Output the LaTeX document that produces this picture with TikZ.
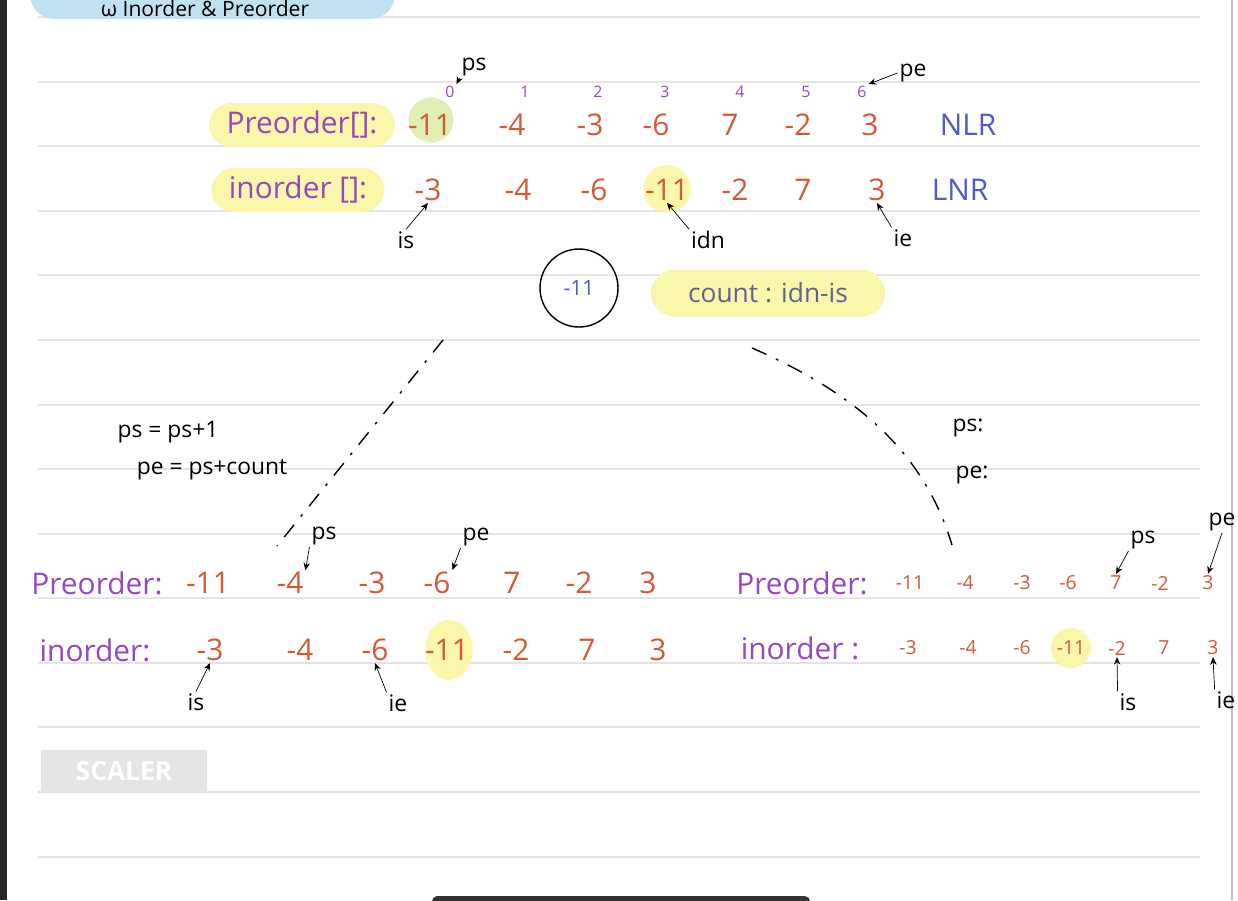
\documentclass[tikz,border=0pt]{standalone}
\usepackage{fontspec}
\setmainfont{Open Sans}
\usepackage{tikz}
\usetikzlibrary{arrows.meta,positioning,calc,shapes.geometric}

\definecolor{valred}{RGB}{212,90,52}
\definecolor{arrpurple}{RGB}{150,72,190}
\definecolor{penblue}{RGB}{78,92,196}
\definecolor{countblue}{RGB}{92,100,150}
\definecolor{hlyellow}{RGB}{250,246,170}
\definecolor{hlgreen}{RGB}{224,240,180}
\definecolor{hlblue}{RGB}{192,226,240}
\definecolor{ruleline}{RGB}{228,228,228}

\begin{document}
\begin{tikzpicture}[x=0.02cm, y=-0.02cm,
  val/.style={text=valred, font=\fontsize{17}{20}\selectfont, inner sep=1pt},
  sval/.style={text=valred, font=\fontsize{11}{13}\selectfont, inner sep=1pt},
  arr/.style={text=arrpurple, font=\fontsize{17}{20}\selectfont, inner sep=1pt},
  arrlbl/.style={arr, fill=hlyellow, rounded corners=13pt, inner xsep=10pt, minimum height=0.88cm},
  idx/.style={text=arrpurple, font=\fontsize{9}{10}\selectfont, inner sep=1pt},
  ptr/.style={font=\fontsize{13}{15}\selectfont, inner sep=1pt},
  note/.style={font=\fontsize{13}{15}\selectfont, inner sep=1pt},
  order/.style={text=penblue, font=\fontsize{17}{20}\selectfont, inner sep=1pt},
  spot/.style={circle, inner sep=0pt},
  arrow/.style={-{Stealth[length=1.5mm,width=1.3mm]}, thin},
  branch/.style={thick, dash pattern=on 9pt off 6pt on 1.5pt off 6pt},
]
\clip (0,0) rectangle (1238,900);
\fill[white] (0,0) rectangle (1238,900);

% Page frame
\fill[black!85] (0,0) rectangle (7,900);
\draw[black!25, thick] (1232,0) -- (1232,900);
\fill[black!80, rounded corners=3pt] (432,896) rectangle (810,906);
\foreach \y in {17,82,146,211,275,340,405,469,534,598,663,727,792,857}
  \draw[ruleline, thick] (38,\y) -- (1200,\y);

% Heading
\fill[hlblue, rounded corners=14pt] (30,-25) rectangle (395,19);
\node[font=\fontsize{12}{14}\selectfont, inner sep=1pt] (title) at (205,9) {ω Inorder \& Preorder};

% Top arrays
\node[arrlbl] (prelbl) at (302,125) {Preorder[]:};
\node[arrlbl] (inlbl) at (298,190) {inorder []:};
\node[spot, fill=hlgreen, minimum size=0.9cm] (preroot) at (431,120) {};
\node[spot, fill=hlyellow, minimum size=0.95cm] (inroot) at (667,189) {};
\foreach \x/\v [count=\i] in {430/-11,512/-4,590/-3,656/-6,730/7,798/-2,870/3}
  \node[val] (pre\i) at (\x,125) {\v};
\foreach \x/\v [count=\i] in {428/-3,518/-4,594/-6,667/-11,735/-2,803/7,877/3}
  \node[val] (in\i) at (\x,190) {\v};
\node[order] (nlr) at (968,125) {NLR};
\node[order] (lnr) at (960,190) {LNR};
\foreach \x/\k [count=\i] in {450/0,525/1,598/2,665/3,740/4,806/5,862/6}
  \node[idx] (idx\i) at (\x,92) {\k};

% Top pointers
\node[ptr] (tps) at (474,67) {ps};
\node[ptr] (tpe) at (913,73) {pe};
\node[ptr] (tis) at (406,240) {is};
\node[ptr] (tidn) at (708,240) {idn};
\node[ptr] (tie) at (903,238) {ie};
\draw[arrow] (tps.south west) -- (idx1.north east);
\draw[arrow] (tpe.west) -- (idx7.north east);
\draw[arrow] (tis.north) -- (in1.south);
\draw[arrow] (tidn.north west) -- (in4.south);
\draw[arrow] (tie.north west) -- (in7.south);

% Root
\node[circle, draw, thick, minimum size=1.56cm, text=penblue, font=\fontsize{12}{14}\selectfont] (root) at (579,288) {-11};
\node[fill=hlyellow, rounded corners=14pt, minimum width=4.7cm, minimum height=0.94cm, text=countblue, font=\fontsize{15}{18}\selectfont] (count) at (768,293) {count : idn-is};

% Branches
\coordinate (lstart) at (443,340);
\coordinate (lend) at (277,546);
\coordinate (rstart) at (752,348);
\coordinate (rend) at (952,545);
\draw[branch] (lstart) -- (lend);
\draw[branch] (rstart) .. controls (860,395) and (925,455) .. (rend);
\node[note] (lps) at (168,432) {ps = ps+1};
\node[note] (lpe) at (212,470) {pe = ps+count};
\node[note] (rps) at (968,428) {ps:};
\node[note] (rpe) at (972,475) {pe:};

% Left subtree arrays
\node[arr] (lprelbl) at (97,583) {Preorder:};
\node[arr] (linlbl) at (95,650) {inorder:};
\node[ellipse, inner sep=0pt, fill=hlyellow, minimum width=0.95cm, minimum height=1.2cm] (linroot) at (449,650) {};
\foreach \x/\v [count=\i] in {208/-11,290/-4,372/-3,437/-6,512/7,579/-2,648/3}
  \node[val] (lpre\i) at (\x,583) {\v};
\foreach \x/\v [count=\i] in {210/-3,300/-4,375/-6,447/-11,516/-2,587/7,658/3}
  \node[val] (lin\i) at (\x,650) {\v};
\node[ptr] (lptrps) at (324,536) {ps};
\node[ptr] (lptrpe) at (476,537) {pe};
\node[ptr] (lptris) at (196,702) {is};
\node[ptr] (lptrie) at (398,703) {ie};
\draw[arrow] (lptrps.south west) -- (lpre2.north east);
\draw[arrow] (lptrpe.south west) -- (lpre4.north east);
\draw[arrow] (lptris.north) -- (lin1.south);
\draw[arrow] (lptrie.north west) -- (lin3.south);

% Right subtree arrays
\node[arr] (rprelbl) at (802,583) {Preorder:};
\node[arr] (rinlbl) at (800,648) {inorder :};
\node[spot, fill=hlyellow, minimum size=0.8cm] (rinroot) at (1071,648) {};
\foreach \x/\v [count=\i] in {910/-11,965/-4,1022/-3,1068/-6,1116/7,1160/-2,1208/3}
  \node[sval] (rpre\i) at (\x,583) {\v};
\foreach \x/\v [count=\i] in {908/-3,968/-4,1022/-6,1071/-11,1117/-2,1164/7,1213/3}
  \node[sval] (rin\i) at (\x,648) {\v};
\node[ptr] (rptrps) at (1143,540) {ps};
\node[ptr] (rptrpe) at (1222,522) {pe};
\node[ptr] (rptris) at (1128,702) {is};
\node[ptr] (rptrie) at (1226,700) {ie};
\draw[arrow] (rptrps.south west) -- (rpre5.north);
\draw[arrow] (rptrpe.south) -- (rpre7.north);
\draw[arrow] (rptris.north west) -- (rin5.south);
\draw[arrow] (rptrie.north west) -- (rin7.south);

% Watermark
\node[fill=black!10, minimum width=3.34cm, minimum height=0.84cm, text=white, font=\bfseries\fontsize{15}{18}\selectfont] (scaler) at (124,771) {SCALER};

\end{tikzpicture}
\end{document}
